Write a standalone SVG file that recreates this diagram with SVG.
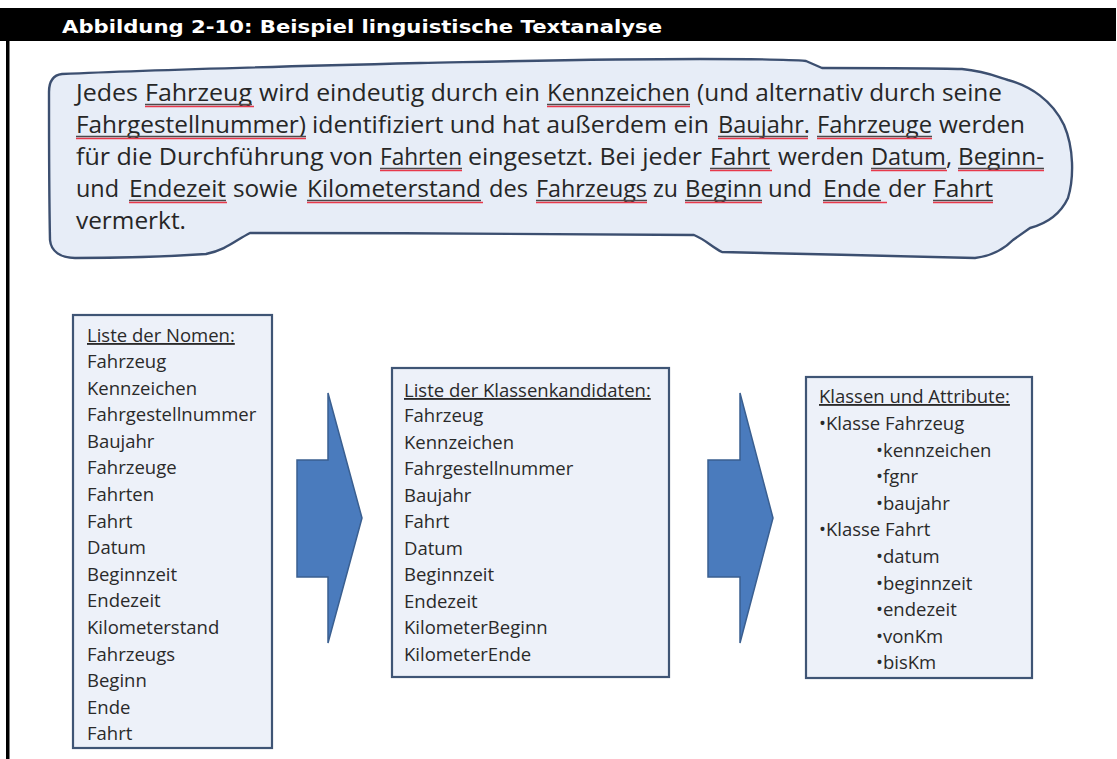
<svg xmlns="http://www.w3.org/2000/svg" width="1117" height="759" viewBox="0 0 1117 759">
  <style>
    .ct { font-family: "Open Sans", "Liberation Sans", sans-serif; font-size: 23px; fill: #262626; }
    .bt { font-family: "Open Sans", "Liberation Sans", sans-serif; font-size: 18.5px; fill: #2a2a2a; }
    .hd { text-decoration: underline; }
    .box { fill: #edf1f9; stroke: #3f5575; stroke-width: 2.2; }
    .arrow { fill: #4a7bbd; stroke: #3a5f90; stroke-width: 1.5; stroke-linejoin: miter; }
    .ul { stroke: #4a4a4a; stroke-width: 1.3; fill: none; }
    .sq { stroke: #e8394b; stroke-width: 1.6; fill: none; }
  </style>

  <rect x="0" y="0" width="1117" height="759" fill="#ffffff"/>

  <!-- title bar and left rule -->
  <g id="header">
    <rect x="0" y="8" width="1116" height="33" fill="#000000"/>
    <rect x="6" y="41" width="3.5" height="718" fill="#000000"/>
    <text x="62" y="33" fill="#ffffff" font-family="'DejaVu Sans', Verdana, sans-serif" font-weight="bold" font-size="18" textLength="600" lengthAdjust="spacingAndGlyphs">Abbildung 2-10: Beispiel linguistische Textanalyse</text>
  </g>

  <!-- requirement text in a hand-drawn bubble -->
  <g id="cloud">
    <path d="M62,74 C150,70 300,66 420,63 C520,61 600,59 700,59 C760,59 795,60 806,61 L822,68 C870,68 930,68 962,69 C985,71 998,77 1008,80 C1030,86 1052,100 1064,125 C1074,148 1074,178 1068,198 C1060,215 1045,224 1030,228 L1013,240 C1004,249 992,256 975,258 C900,256 800,254 722,252 C712,247 706,240 694,235 C600,234 400,233 250,233 C236,240 226,250 206,254 C160,257 110,258 75,258 C60,258 51,251 50,240 C49,190 49,130 49,92 C49,81 54,75 62,74 Z" fill="#e7edf7" stroke="#3c4f70" stroke-width="2.4" stroke-linejoin="round"/>

    <g class="ct">
      <text x="76" y="101" textLength="62" lengthAdjust="spacingAndGlyphs">Jedes</text>
      <text x="145" y="101" textLength="107" lengthAdjust="spacingAndGlyphs">Fahrzeug</text>
      <text x="259" y="101" textLength="281" lengthAdjust="spacingAndGlyphs">wird eindeutig durch ein</text>
      <text x="547" y="101" textLength="143" lengthAdjust="spacingAndGlyphs">Kennzeichen</text>
      <text x="697" y="101" textLength="305" lengthAdjust="spacingAndGlyphs">(und alternativ durch seine</text>

      <text x="76" y="133" textLength="230" lengthAdjust="spacingAndGlyphs">Fahrgestellnummer)</text>
      <text x="312" y="133" textLength="397" lengthAdjust="spacingAndGlyphs">identifiziert und hat außerdem ein</text>
      <text x="718" y="133" textLength="92" lengthAdjust="spacingAndGlyphs">Baujahr.</text>
      <text x="817" y="133" textLength="115" lengthAdjust="spacingAndGlyphs">Fahrzeuge</text>
      <text x="939" y="133" textLength="86" lengthAdjust="spacingAndGlyphs">werden</text>

      <text x="76" y="165" textLength="297" lengthAdjust="spacingAndGlyphs">für die Durchführung von</text>
      <text x="380" y="165" textLength="82" lengthAdjust="spacingAndGlyphs">Fahrten</text>
      <text x="468" y="165" textLength="234" lengthAdjust="spacingAndGlyphs">eingesetzt. Bei jeder</text>
      <text x="710" y="165" textLength="60" lengthAdjust="spacingAndGlyphs">Fahrt</text>
      <text x="778" y="165" textLength="86" lengthAdjust="spacingAndGlyphs">werden</text>
      <text x="871" y="165" textLength="81" lengthAdjust="spacingAndGlyphs">Datum,</text>
      <text x="958" y="165" textLength="86" lengthAdjust="spacingAndGlyphs">Beginn-</text>

      <text x="76" y="197" textLength="43" lengthAdjust="spacingAndGlyphs">und</text>
      <text x="129" y="197" textLength="97" lengthAdjust="spacingAndGlyphs">Endezeit</text>
      <text x="233" y="197" textLength="65" lengthAdjust="spacingAndGlyphs">sowie</text>
      <text x="307" y="197" textLength="174" lengthAdjust="spacingAndGlyphs">Kilometerstand</text>
      <text x="489" y="197" textLength="39" lengthAdjust="spacingAndGlyphs">des</text>
      <text x="536" y="197" textLength="111" lengthAdjust="spacingAndGlyphs">Fahrzeugs</text>
      <text x="653" y="197" textLength="25" lengthAdjust="spacingAndGlyphs">zu</text>
      <text x="685" y="197" textLength="77" lengthAdjust="spacingAndGlyphs">Beginn</text>
      <text x="768" y="197" textLength="44" lengthAdjust="spacingAndGlyphs">und</text>
      <text x="823" y="197" textLength="58" lengthAdjust="spacingAndGlyphs">Ende</text>
      <text x="888" y="197" textLength="38" lengthAdjust="spacingAndGlyphs">der</text>
      <text x="933" y="197" textLength="60" lengthAdjust="spacingAndGlyphs">Fahrt</text>

      <text x="76" y="229" textLength="110" lengthAdjust="spacingAndGlyphs">vermerkt.</text>
    </g>

    <!-- noun underlines: plain underline plus spelling-style red line -->
    <path class="ul" d="M145,104.5H252 M547,104.5H690 M76,136.5H306 M718,136.5H808 M817,136.5H932 M380,168.5H462 M710,168.5H770 M871,168.5H946 M958,168.5H1044 M129,200.5H226 M307,200.5H481 M536,200.5H647 M685,200.5H762 M823,200.5H881 M933,200.5H993"/>
    <path class="sq" d="M145,106.5H254 M547,106.5H690 M76,138.5H306 M718,138.5H808 M817,138.5H932 M380,170.5H462 M710,170.5H772 M871,170.5H947 M958,170.5H1044 M129,202.5H227 M307,202.5H483 M536,202.5H647 M685,202.5H762 M823,202.5H887 M933,202.5H993"/>
  </g>

  <g id="box-nomen">
    <rect class="box" x="73" y="315" width="199" height="433"/>
    <g class="bt">
      <text x="87" y="342" class="hd">Liste der Nomen:</text>
      <text x="87" y="368">Fahrzeug</text>
      <text x="87" y="394.6">Kennzeichen</text>
      <text x="87" y="421.2">Fahrgestellnummer</text>
      <text x="87" y="447.8">Baujahr</text>
      <text x="87" y="474.4">Fahrzeuge</text>
      <text x="87" y="501">Fahrten</text>
      <text x="87" y="527.6">Fahrt</text>
      <text x="87" y="554.2">Datum</text>
      <text x="87" y="580.8">Beginnzeit</text>
      <text x="87" y="607.4">Endezeit</text>
      <text x="87" y="634">Kilometerstand</text>
      <text x="87" y="660.6">Fahrzeugs</text>
      <text x="87" y="687.2">Beginn</text>
      <text x="87" y="713.8">Ende</text>
      <text x="87" y="740.4">Fahrt</text>
    </g>
  </g>

  <g id="box-kandidaten">
    <rect class="box" x="392" y="368" width="277" height="309"/>
    <g class="bt">
      <text x="404" y="397" class="hd">Liste der Klassenkandidaten:</text>
      <text x="404" y="422">Fahrzeug</text>
      <text x="404" y="448.5">Kennzeichen</text>
      <text x="404" y="475">Fahrgestellnummer</text>
      <text x="404" y="501.5">Baujahr</text>
      <text x="404" y="528">Fahrt</text>
      <text x="404" y="554.5">Datum</text>
      <text x="404" y="581">Beginnzeit</text>
      <text x="404" y="607.5">Endezeit</text>
      <text x="404" y="634">KilometerBeginn</text>
      <text x="404" y="660.5">KilometerEnde</text>
    </g>
  </g>

  <g id="box-klassen">
    <rect class="box" x="806" y="377" width="226" height="301"/>
    <g class="bt">
      <text x="819" y="403" class="hd">Klassen und Attribute:</text>
      <text x="819" y="430">•Klasse Fahrzeug</text>
      <text x="876" y="456.6">•kennzeichen</text>
      <text x="876" y="483.2">•fgnr</text>
      <text x="876" y="509.8">•baujahr</text>
      <text x="819" y="536.4">•Klasse Fahrt</text>
      <text x="876" y="563">•datum</text>
      <text x="876" y="589.6">•beginnzeit</text>
      <text x="876" y="616.2">•endezeit</text>
      <text x="876" y="642.8">•vonKm</text>
      <text x="876" y="669.4">•bisKm</text>
    </g>
  </g>

  <!-- block arrows between the lists -->
  <g id="arrows">
    <polygon class="arrow" points="297,460 328,460 328,393 362,518 328,643 328,577 297,577"/>
    <polygon class="arrow" points="708,460 740,460 740,393 773,518 740,643 740,577 708,577"/>
  </g>
</svg>
